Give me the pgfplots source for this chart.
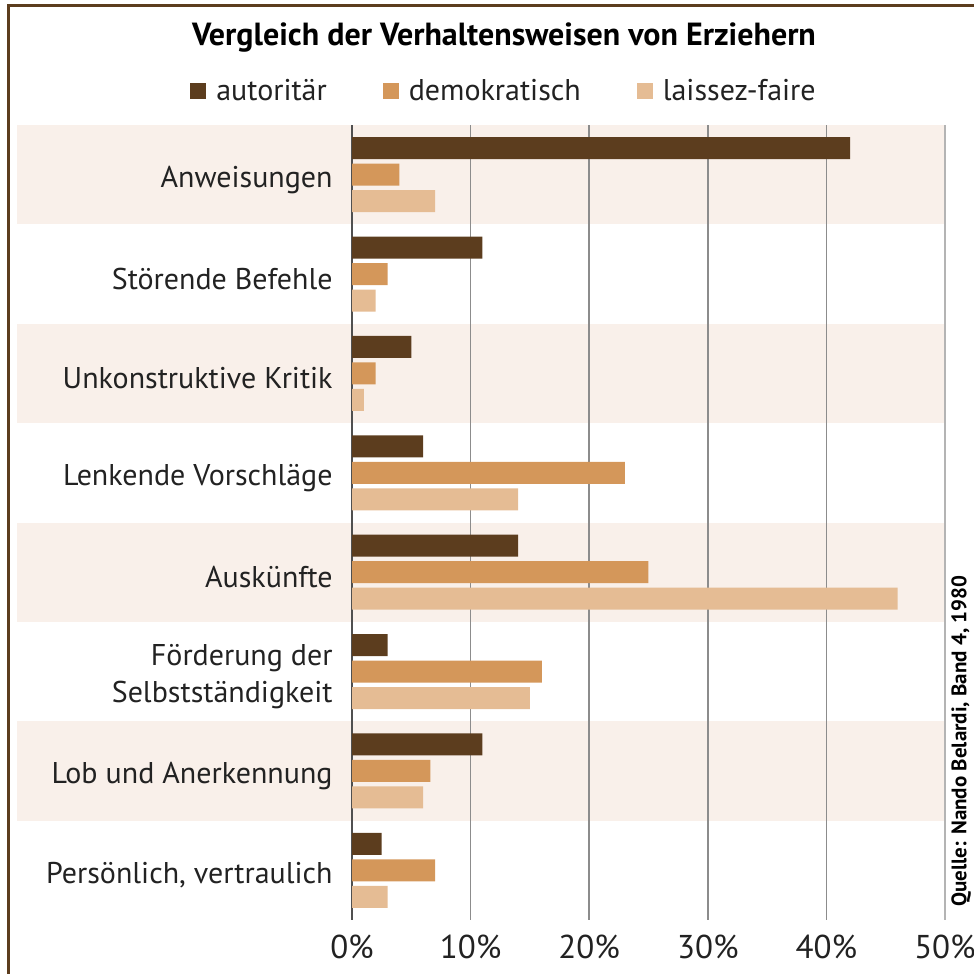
\documentclass[border=0pt]{standalone}
\usepackage{fontspec}
\setmainfont{PT Sans}
\usepackage{pgfplots}
\pgfplotsset{compat=1.18}
\definecolor{cA}{HTML}{5C3D1E}
\definecolor{cD}{HTML}{D4975A}
\definecolor{cL}{HTML}{E5BC94}
\definecolor{band}{HTML}{F9F0EA}
\definecolor{framec}{HTML}{5C3D1E}
\definecolor{gridc}{HTML}{8C8C8C}
\definecolor{gridl}{HTML}{B4B4B4}
\definecolor{axisc}{HTML}{505050}
\definecolor{txt}{HTML}{222222}
\pgfplotsset{sqlegend/.style={legend image code/.code={\fill[##1,draw=none] (0pt,-4pt) rectangle (8pt,4pt);}}}
\begin{document}
\begin{tikzpicture}[x=0.5pt,y=-0.5pt]
\foreach \k in {0,2,4,6} {
  \fill[band] (17,{125+\k*99.375}) rectangle (945,{125+(\k+1)*99.375});
}
\draw[framec, line width=1.5pt] (8,980) -- (8,6) -- (980,6);
\node[font=\bfseries\fontsize{16}{19}\selectfont, text=black] at (504,38) {Vergleich der Verhaltensweisen von Erziehern};
\node[rotate=90, font=\bfseries\fontsize{10.5}{12}\selectfont, text=black] at (961,741) {Quelle: Nando Belardi, Band 4, 1980};
\begin{axis}[
  at={(176pt,-460pt)}, anchor=south west,
  width=296.5pt, height=397.5pt, scale only axis,
  xmin=0, xmax=50, ymin=-0.5, ymax=7.5, y dir=reverse,
  xbar,
  axis x line*=bottom, axis y line*=left,
  x axis line style={draw=none},
  y axis line style={draw=axisc, line width=0.6pt},
  xtick={0,10,20,30,40},
  xticklabels={0\%,10\%,20\%,30\%,40\%},
  extra x ticks={50},
  extra x tick labels={50\%},
  extra x tick style={grid style={draw=gridl, line width=1.3pt}},
  xmajorgrids,
  grid style={draw=gridc, line width=0.75pt},
  major tick length=0pt,
  ytick={0,...,7},
  yticklabels={Anweisungen, Störende Befehle, Unkonstruktive Kritik, Lenkende Vorschläge, Auskünfte, {Förderung der\\Selbstständigkeit}, Lob und Anerkennung, {Persönlich, vertraulich}},
  yticklabel style={align=right, font=\fontsize{15}{18.5}\selectfont, text=txt, inner sep=0pt, xshift=-9.5pt, yshift=-2.5pt},
  xticklabel style={font=\fontsize{16.5}{19}\selectfont, text=txt, inner sep=0pt, yshift=-7.5pt},
  /pgf/number format/assume math mode=true,
  bar width=11pt,
  legend style={at={(0.258,1.0428)}, anchor=center, draw=none, fill=none, legend columns=3,
    font=\fontsize{15}{18}\selectfont, text=txt,
    /tikz/every even column/.append style={column sep=26pt},
    /tikz/every odd column/.append style={column sep=3pt}},
]
\addplot[fill=cA, draw=none, bar shift=13.25pt, sqlegend] coordinates {(42,0) (11,1) (5,2) (6,3) (14,4) (3,5) (11,6) (2.5,7)};
\addplot[fill=cD, draw=none, bar shift=0pt, sqlegend] coordinates {(4,0) (3,1) (2,2) (23,3) (25,4) (16,5) (6.6,6) (7,7)};
\addplot[fill=cL, draw=none, bar shift=-13.25pt, sqlegend] coordinates {(7,0) (2,1) (1,2) (14,3) (46,4) (15,5) (6,6) (3,7)};
\legend{autoritär, demokratisch, laissez-faire}
\end{axis}
\pgfresetboundingbox
\path[use as bounding box] (0,0) rectangle (974,974);
\end{tikzpicture}
\end{document}
